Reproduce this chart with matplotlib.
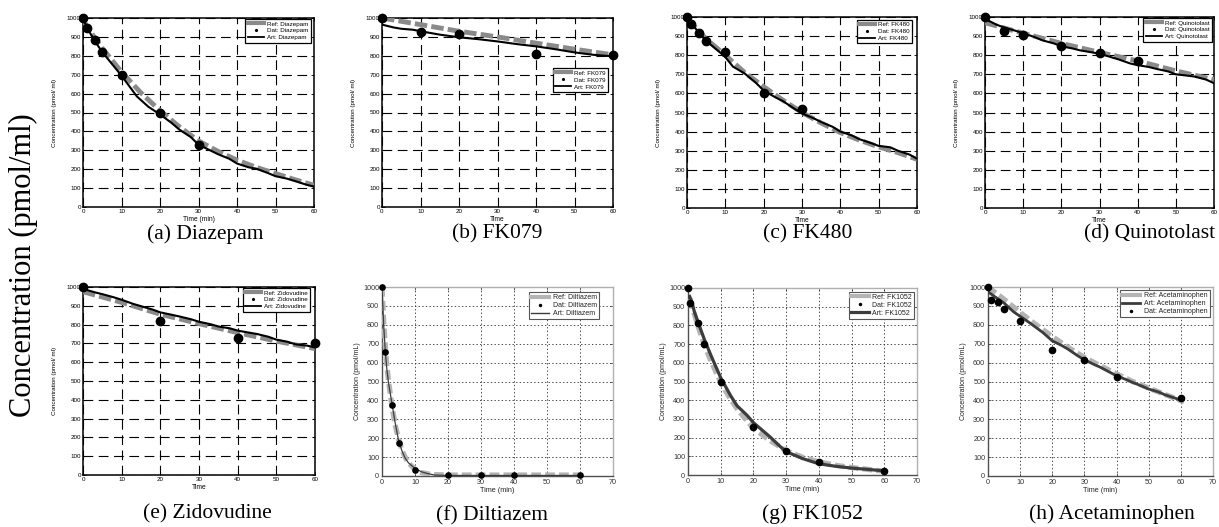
"""Eight concentration-time panels: reference model, data and artificial fit."""

import matplotlib
matplotlib.use("Agg")
import matplotlib.pyplot as plt
from matplotlib.lines import Line2D

plt.rcParams["font.family"] = ["Liberation Sans", "DejaVu Sans"]
plt.rcParams["lines.scale_dashes"] = False

W, H = 1219, 527

# ---- data (time in min, concentration in pmol/ml) ----
diaz_dat_t = [0, 1, 3, 5, 10, 20, 30]
diaz_dat = [1000, 945, 885, 820, 700, 500, 330]
diaz_ref_t = [0, 2, 5, 10, 15, 20, 25, 30, 35, 40, 45, 50, 55, 60]
diaz_ref = [990, 925, 840, 715, 605, 510, 425, 350, 295, 248, 210, 177, 145, 115]
diaz_art_t = [0, 1, 3, 5, 8, 10, 12, 14, 17, 20, 23, 25, 28, 30, 33, 35,
              38, 40, 43, 45, 48, 50, 53, 55, 58, 60]
diaz_art = [1000, 950, 880, 820, 745, 695, 640, 585, 530, 490, 445, 410, 370,
            330, 300, 280, 255, 230, 210, 203, 180, 163, 150, 138, 118, 108]

fk079_dat_t = [0, 10, 20, 40, 60]
fk079_dat = [1000, 925, 915, 808, 805]
fk079_ref_t = [0, 10, 20, 30, 40, 50, 60]
fk079_ref = [1000, 965, 930, 900, 867, 835, 805]
fk079_art_t = [0, 3, 5, 8, 10, 15, 20, 25, 30, 35, 40, 45, 50, 55, 60]
fk079_art = [965, 950, 943, 938, 930, 912, 898, 888, 876, 862, 850, 835, 818, 805, 797]

fk480_dat_t = [0, 1, 3, 5, 10, 20, 30]
fk480_dat = [1000, 962, 915, 875, 815, 600, 517]
fk480_ref_t = [0, 2, 5, 10, 15, 20, 25, 30, 35, 40, 45, 50, 55, 60]
fk480_ref = [990, 950, 885, 800, 710, 635, 565, 500, 445, 395, 355, 320, 290, 255]
fk480_art_t = [0, 2, 5, 8, 10, 12, 15, 18, 20, 23, 25, 28, 30, 33, 35, 38,
               40, 43, 45, 48, 50, 53, 55, 58, 60]
fk480_art = [995, 945, 875, 825, 790, 740, 705, 655, 615, 580, 560, 520, 495,
             470, 450, 425, 400, 380, 360, 340, 325, 318, 300, 280, 258]

quin_dat_t = [0, 5, 10, 20, 30, 40]
quin_dat = [1000, 928, 907, 846, 811, 768]
quin_ref_t = [0, 10, 20, 30, 40, 50, 60]
quin_ref = [970, 915, 862, 815, 770, 718, 672]
quin_art_t = [0, 3, 5, 8, 10, 13, 15, 18, 20, 23, 25, 28, 30, 33, 35, 38,
              40, 43, 45, 48, 50, 53, 55, 58, 60]
quin_art = [990, 960, 945, 928, 915, 895, 878, 862, 847, 835, 825, 815, 808,
            790, 778, 757, 748, 738, 728, 715, 700, 693, 688, 672, 653]

zido_dat_t = [0, 20, 40, 60]
zido_dat = [1000, 818, 731, 702]
zido_ref_t = [0, 10, 20, 30, 40, 50, 60]
zido_ref = [975, 918, 855, 805, 757, 712, 672]
zido_art_t = [0, 3, 5, 8, 10, 13, 15, 18, 20, 23, 25, 28, 30, 33, 35, 38,
              40, 43, 45, 48, 50, 53, 55, 58, 60]
zido_art = [990, 972, 962, 945, 932, 910, 898, 880, 865, 852, 843, 828, 815,
            802, 790, 780, 768, 757, 750, 735, 720, 708, 695, 688, 678]

dilt_dat_t = [0, 1, 3, 5, 10, 20, 30, 40, 60]
dilt_dat = [1000, 658, 375, 176, 32, 3, 3, 3, 3]
dilt_ref_t = [0, 0.5, 1, 1.5, 2, 3, 4, 5, 6, 7, 8, 10, 12, 15, 20, 30, 40, 50, 60]
dilt_ref = [1000, 820, 690, 580, 500, 370, 270, 195, 140, 100, 70, 35, 18, 8, 5, 5, 5, 5, 5]
dilt_art_t = [0, 0.5, 1, 1.5, 2, 3, 4, 5, 6, 7, 8, 10, 12, 14, 16, 20, 30, 40, 50, 60]
dilt_art = [1000, 800, 660, 560, 490, 385, 280, 190, 135, 95, 70, 40, 22, 12, 5, 3, 3, 3, 3, 3]

fk1052_dat_t = [0, 0.6, 3, 5, 10, 20, 30, 40, 60]
fk1052_dat = [1000, 918, 812, 700, 500, 255, 130, 68, 20]
fk1052_ref_t = [0.5, 1, 3, 5, 7, 10, 13, 15, 18, 20, 25, 30, 35, 40, 45, 50, 55, 60]
fk1052_ref = [940, 915, 800, 695, 610, 495, 405, 355, 290, 250, 185, 130, 95, 70, 52, 40, 30, 20]
fk1052_art_t = [0.5, 1, 2, 3, 5, 7, 10, 13, 15, 18, 20, 23, 25, 28, 30, 35,
                40, 45, 50, 55, 60]
fk1052_art = [955, 935, 870, 820, 725, 640, 520, 425, 370, 320, 280, 235, 205,
              155, 125, 88, 60, 47, 37, 30, 22]

acet_dat_t = [0, 1, 3, 5, 10, 20, 30, 40, 60]
acet_dat = [1000, 933, 921, 882, 820, 669, 616, 525, 415]
acet_ref_t = [0, 5, 10, 15, 20, 25, 30, 35, 40, 45, 50, 55, 61]
acet_ref = [1000, 935, 865, 800, 738, 680, 627, 583, 540, 500, 465, 432, 392]
acet_art_t = [0, 2, 5, 8, 10, 13, 15, 17, 20, 23, 25, 28, 30, 33, 35, 38,
              40, 43, 45, 48, 50, 53, 55, 58, 60]
acet_art = [975, 950, 915, 868, 845, 810, 785, 760, 715, 690, 670, 635, 615,
            590, 575, 548, 530, 510, 495, 475, 460, 445, 430, 413, 402]

y_ticks = list(range(0, 1001, 100))
x_ticks_60 = list(range(0, 61, 10))
x_ticks_70 = list(range(0, 71, 10))


def rect(left, right, top, bottom):
    return [left / W, 1 - bottom / H, (right - left) / W, (bottom - top) / H]


def matlab_panel(fig, box, name, dat_t, dat, ref_t, ref, art_t, art,
                 xlabel, leg_anchor):
    ax = fig.add_axes(rect(*box))
    ax.plot(ref_t, ref, color="#8a8a8a", lw=3.5, ls=(0, (9, 3)),
            dash_capstyle="butt", zorder=3)
    ax.plot(art_t, art, color="black", lw=1.5, zorder=4)
    ax.plot(dat_t, dat, "o", color="black", ms=6, clip_on=False, zorder=5)
    ax.set_xlim(0, 60)
    ax.set_ylim(0, 1000)
    ax.set_xticks(x_ticks_60)
    ax.set_yticks(y_ticks)
    ax.grid(True, color="black", lw=0.8, ls=(0, (7, 4)))
    ax.set_axisbelow(True)
    for s in ax.spines.values():
        s.set_color("black")
        s.set_linewidth(1.1)
    ax.tick_params(direction="in", length=2, width=0.6, labelsize=4.5, pad=1.5,
                   top=True, right=True)
    ax.set_xlabel(xlabel, fontsize=4.8, labelpad=1.5)
    ax.set_ylabel("Concentration (pmol/ ml)", fontsize=4.5)
    ax.yaxis.set_label_coords(-0.112, 0.5)
    handles = [
        Line2D([], [], color="#8a8a8a", lw=3),
        Line2D([], [], marker=".", ls="none", color="black", ms=2.5),
        Line2D([], [], color="black", lw=1.3),
    ]
    labels = ["Ref: " + name, "Dat: " + name, "Art: " + name]
    leg = ax.legend(handles, labels, loc="upper right", bbox_to_anchor=leg_anchor,
                    fontsize=4.5, frameon=True, fancybox=False, framealpha=1,
                    handlelength=2.6, handletextpad=0.5, labelspacing=0.25,
                    borderpad=0.35, borderaxespad=0)
    leg.get_frame().set_edgecolor("black")
    leg.get_frame().set_linewidth(0.9)
    return ax


def gray_panel(fig, box, name, dat_t, dat, ref_t, ref, art_t, art,
               art_lw, dat_ms, leg_anchor, order):
    ax = fig.add_axes(rect(*box))
    ax.plot(ref_t, ref, color="#b4b4b4", lw=3.8, ls=(0, (7, 3)),
            dash_capstyle="butt", zorder=3)
    ax.plot(art_t, art, color="#3c3c3c", lw=art_lw, zorder=4)
    ax.plot(dat_t, dat, "o", color="black", ms=dat_ms, clip_on=False, zorder=5)
    ax.set_xlim(0, 70)
    ax.set_ylim(0, 1000)
    ax.set_xticks(x_ticks_70)
    ax.set_yticks(y_ticks)
    ax.grid(True, color="#303030", lw=0.6, ls=(0, (1, 1.6)))
    ax.set_axisbelow(True)
    ax.spines["left"].set_color("#505050")
    ax.spines["bottom"].set_color("#505050")
    ax.spines["top"].set_color("#b0b0b0")
    ax.spines["right"].set_color("#b0b0b0")
    for s in ax.spines.values():
        s.set_linewidth(1.0)
    ax.tick_params(direction="in", length=2, width=0.5, labelsize=5.2, pad=2,
                   colors="#333333", top=True, right=True)
    ax.set_xlabel("Time (min)", fontsize=5.2, labelpad=1.2, color="#222222")
    ax.set_ylabel("Concentration (pmol/mL)", fontsize=5.0, color="#222222")
    ax.yaxis.set_label_coords(-0.093, 0.5)
    h = {
        "Ref": Line2D([], [], color="#b4b4b4", lw=3),
        "Dat": Line2D([], [], marker=".", ls="none", color="black", ms=3),
        "Art": Line2D([], [], color="#3c3c3c", lw=max(art_lw, 1.0)),
    }
    leg = ax.legend([h[k] for k in order], [k + ": " + name for k in order],
                    loc="upper right", bbox_to_anchor=leg_anchor,
                    fontsize=5.0, frameon=True, fancybox=False, framealpha=1,
                    handlelength=2.6, handletextpad=0.5, labelspacing=0.15,
                    borderpad=0.3, borderaxespad=0)
    leg.get_frame().set_edgecolor("#555555")
    leg.get_frame().set_linewidth(0.8)
    for t in leg.get_texts():
        t.set_color("#222222")
    return ax


fig = plt.figure(figsize=(W / 100, H / 100), dpi=100)

matlab_panel(fig, (83, 314, 18, 207), "Diazepam", diaz_dat_t, diaz_dat,
             diaz_ref_t, diaz_ref, diaz_art_t, diaz_art, "Time (min)", (0.985, 0.995))
matlab_panel(fig, (382, 613, 18, 207), "FK079", fk079_dat_t, fk079_dat,
             fk079_ref_t, fk079_ref, fk079_art_t, fk079_art, "Time", (0.978, 0.735))
matlab_panel(fig, (687, 917, 17, 208), "FK480", fk480_dat_t, fk480_dat,
             fk480_ref_t, fk480_ref, fk480_art_t, fk480_art, "Time", (0.978, 0.985))
matlab_panel(fig, (985, 1214, 17, 208), "Quinotolast", quin_dat_t, quin_dat,
             quin_ref_t, quin_ref, quin_art_t, quin_art, "Time", (0.99, 0.995))
matlab_panel(fig, (83, 315, 287, 475), "Zidovudine", zido_dat_t, zido_dat,
             zido_ref_t, zido_ref, zido_art_t, zido_art, "Time", (0.98, 0.995))

gray_panel(fig, (382, 613, 287, 476), "Diltiazem", dilt_dat_t, dilt_dat,
           dilt_ref_t, dilt_ref, dilt_art_t, dilt_art, 0.9, 3.8,
           (0.94, 0.974), ["Ref", "Dat", "Art"])
gray_panel(fig, (688, 917, 288, 475), "FK1052", fk1052_dat_t, fk1052_dat,
           fk1052_ref_t, fk1052_ref, fk1052_art_t, fk1052_art, 2.3, 4.5,
           (0.987, 0.98), ["Ref", "Dat", "Art"])
gray_panel(fig, (988, 1213, 287, 476), "Acetaminophen", acet_dat_t, acet_dat,
           acet_ref_t, acet_ref, acet_art_t, acet_art, 2.0, 4.5,
           (0.985, 0.984), ["Ref", "Art", "Dat"])

captions = [
    ("(a) Diazepam", 205, 234), ("(b) FK079", 497, 234),
    ("(c) FK480", 808, 234), ("(d) Quinotolast", 1150, 234),
    ("(e) Zidovudine", 207, 514), ("(f) Diltiazem", 492, 516),
    ("(g) FK1052", 812, 514), ("(h) Acetaminophen", 1112, 514),
]
for text, cx, cy in captions:
    fig.text(cx / W, 1 - cy / H, text, ha="center", va="center",
             fontsize=15.5, family=["Liberation Serif", "DejaVu Serif"])

fig.text(23 / W, 1 - 265 / H, "Concentration (pmol/ml)", rotation=90,
         ha="center", va="center", fontsize=22,
         family=["Liberation Serif", "DejaVu Serif"])

fig.savefig("out.png", dpi=100)
